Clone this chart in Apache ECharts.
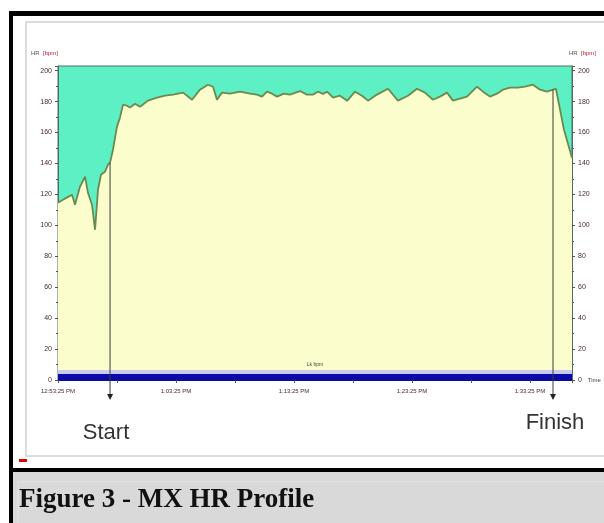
<!DOCTYPE html>
<html><head><meta charset="utf-8">
<script src="https://cdn.jsdelivr.net/npm/echarts@6/dist/echarts.min.js"></script>
<style>html,body{margin:0;padding:0;background:#fff}#c{width:604px;height:523px}</style>
</head><body><div id="c"></div>
<script>
// elapsed time (minutes) and heart rate (bpm)
const times = [0,0.42,0.85,1.19,1.44,1.86,2.29,2.54,2.88,3.14,3.39,3.64,3.98,4.24,4.41,4.66,5.0,5.25,5.51,5.85,6.10,6.53,6.95,7.63,8.39,9.07,9.75,10.6,11.36,12.03,12.71,13.14,13.47,13.9,14.58,15.42,16.27,16.86,17.29,17.71,18.14,18.56,19.15,19.66,20.51,21.1,21.61,22.03,22.46,22.8,23.31,23.9,24.5,25.17,25.76,26.27,27.03,27.97,28.81,29.66,30.42,31.1,31.78,32.37,32.97,33.47,34.07,34.66,35.51,36.02,36.61,37.2,37.71,38.31,38.98,39.58,40.25,40.85,41.44,41.95,42.2,42.88,43.56];
const hr = [114.6,116.5,118.4,119.7,113.3,124.9,131.4,121.0,113.3,97.1,123.0,132.7,134.6,139.2,140.5,148.9,163.8,169.6,178.0,177.3,176.1,178.6,176.7,180.6,182.5,183.8,184.5,185.8,181.2,187.7,190.9,189.6,181.2,185.8,185.1,186.4,185.1,184.5,183.2,186.4,185.1,183.2,185.1,184.5,186.8,184.5,184.5,186.4,185.0,186.4,182.5,183.8,180.5,186.4,183.8,180.6,184.5,188.3,180.6,183.8,188.3,185.8,181.2,183.2,185.8,180.6,181.9,183.2,189.6,186.4,183.2,185.1,187.7,189.0,189.0,189.6,190.9,187.7,186.4,187.7,188.3,161.8,143.7];
const timeTicks = [0,10,20,30,40];
const timeLabels = ['12:53:25 PM','1:03:25 PM','1:13:25 PM','1:23:25 PM','1:33:25 PM'];
const hrTicks = [0,20,40,60,80,100,120,140,160,180,200];
const markerNames = ['Start','Finish'];
const markerTimes = [4.41, 41.95];
const arrowEnd = -13;
const lapBand = [0,3.9];
const limitBand = [3.9,6.5];
const bandLabel = 'Lk bpm';

const data = times.map((t,i)=>[t,hr[i]]);
const markerData = markerTimes.map((t,i)=>[t, hr[times.indexOf(t)], arrowEnd, i]);
const bandData = [[limitBand[0], limitBand[1], 0], [lapBand[0], lapBand[1], 1]];

// presentation (not data)
const bandColors = ['#c9c9f2', '#0a0aa8'];
const markerLabelOffset = [[-4, 33], [2, 23]];

const chart = echarts.init(document.getElementById('c'), null, {renderer:'canvas'});
const tickLabelStyle = {fontSize:6, color:'#4a2a2a', fontFamily:'Liberation Sans'};
const yBase = {
  type:'value', min:0, max:203, interval:20,
  axisLine:{show:true, lineStyle:{color:'#4e6f63', width:1}},
  axisTick:{show:true, length:3, lineStyle:{color:'#6a4a4a'}},
  minorTick:{show:true, splitNumber:2, length:2, lineStyle:{color:'#6a4a4a'}},
  splitLine:{show:false},
  axisLabel:Object.assign({}, tickLabelStyle, {fontSize:7, formatter:v=>hrTicks.includes(v)?String(v):''}),
  name:'{a|HR} {b|[bpm]}',
  nameLocation:'end', nameGap:7,
  nameTextStyle:{rich:{a:{fontSize:6,color:'#555',fontFamily:'Liberation Sans'},b:{fontSize:6,color:'#b02030',fontFamily:'Liberation Sans'}}}
};
const option = {
  backgroundColor:'#ffffff',
  animation:false,
  grid:{left:58, right:32, top:66, bottom:143, show:true, backgroundColor:'#5cf0c4', borderColor:'#4e6f63', borderWidth:1},
  xAxis:{
    type:'value', min:0, max:43.56, interval:10,
    axisLine:{show:true, lineStyle:{color:'#0a0aa0'}},
    axisTick:{show:true, length:3, lineStyle:{color:'#555'}},
    minorTick:{show:true, splitNumber:2, length:3, lineStyle:{color:'#555'}},
    splitLine:{show:false},
    axisLabel:Object.assign({margin:8, formatter:v=>{const i=timeTicks.indexOf(v);return i>=0?timeLabels[i]:'';}}, tickLabelStyle),
    name:'Time', nameLocation:'end', nameGap:8,
    nameTextStyle:{fontSize:6,color:'#444',fontFamily:'Liberation Sans',padding:[10,0,0,0]}
  },
  yAxis:[
    Object.assign({}, yBase, {position:'left', axisLabel:Object.assign({}, yBase.axisLabel, {margin:6}), nameTextStyle:Object.assign({}, yBase.nameTextStyle, {align:'right'})}),
    Object.assign({}, yBase, {position:'right', axisLabel:Object.assign({}, yBase.axisLabel, {margin:6}), nameTextStyle:Object.assign({}, yBase.nameTextStyle, {align:'left', padding:[0,0,0,-3]})})
  ],
  series:[
    {
      type:'line', data:data, yAxisIndex:0, symbol:'none', smooth:false, z:2,
      lineStyle:{color:'#6c8a50', width:1.8},
      areaStyle:{color:'#fbfdcc', opacity:1, origin:'start'}
    },
    {
      type:'custom', data:bandData, z:5, silent:true, clip:false,
      encode:{y:[0,1]},
      renderItem:function(params, api){
        const cs = params.coordSys;
        const p0 = api.coord([0, api.value(0)]);
        const p1 = api.coord([0, api.value(1)]);
        const idx = api.value(2);
        const children = [{type:'rect', shape:{x:cs.x, y:p1[1], width:cs.width, height:p0[1]-p1[1]}, style:{fill:bandColors[idx]}}];
        if (idx === 1) {
          children.push({type:'text', x:cs.x+cs.width/2, y:p1[1]-9, style:{text:bandLabel, font:'5px "Liberation Sans"', fill:'#444', align:'center', verticalAlign:'middle'}});
        }
        return {type:'group', children:children};
      }
    },
    {
      type:'custom', data:markerData, z:6, silent:true, clip:false,
      encode:{x:0, y:[1,2]},
      renderItem:function(params, api){
        const top = api.coord([api.value(0), api.value(1)]);
        const bot = api.coord([api.value(0), api.value(2)]);
        const i = api.value(3);
        const off = markerLabelOffset[i];
        return {type:'group', children:[
          {type:'line', shape:{x1:top[0], y1:top[1], x2:bot[0], y2:bot[1]-4}, style:{stroke:'#3a3a3a', lineWidth:1}},
          {type:'polygon', shape:{points:[[bot[0]-3, bot[1]-6],[bot[0]+3, bot[1]-6],[bot[0], bot[1]]]}, style:{fill:'#222'}},
          {type:'text', x:bot[0]+off[0], y:bot[1]+off[1], style:{text:markerNames[i], font:'22px "Liberation Sans"', fill:'#333', align:'center', verticalAlign:'middle'}}
        ]};
      }
    }
  ],
  graphic:[
    {type:'rect', z:-10, silent:true, shape:{x:26, y:22, width:600, height:434}, style:{fill:'none', stroke:'#dcdcdc', lineWidth:2}},
    {type:'rect', z:100, silent:true, shape:{x:13, y:472, width:591, height:51}, style:{fill:'#d9d9d9'}},
    {type:'rect', z:101, silent:true, shape:{x:18, y:482, width:590, height:50}, style:{fill:'none', stroke:'#e4e4e4', lineWidth:1}},
    {type:'rect', z:102, silent:true, shape:{x:9, y:11, width:595, height:5}, style:{fill:'#000'}},
    {type:'rect', z:102, silent:true, shape:{x:9, y:11, width:4, height:512}, style:{fill:'#000'}},
    {type:'rect', z:102, silent:true, shape:{x:13, y:468, width:591, height:4}, style:{fill:'#000'}},
    {type:'rect', z:102, silent:true, shape:{x:19, y:459, width:8, height:3}, style:{fill:'#e00000'}},
    {type:'text', z:103, silent:true, x:19, y:487, style:{text:'Figure 3 - MX HR Profile', font:'bold 27px "Liberation Serif"', fill:'#111', verticalAlign:'top'}}
  ]
};
chart.setOption(option);
</script></body></html>
